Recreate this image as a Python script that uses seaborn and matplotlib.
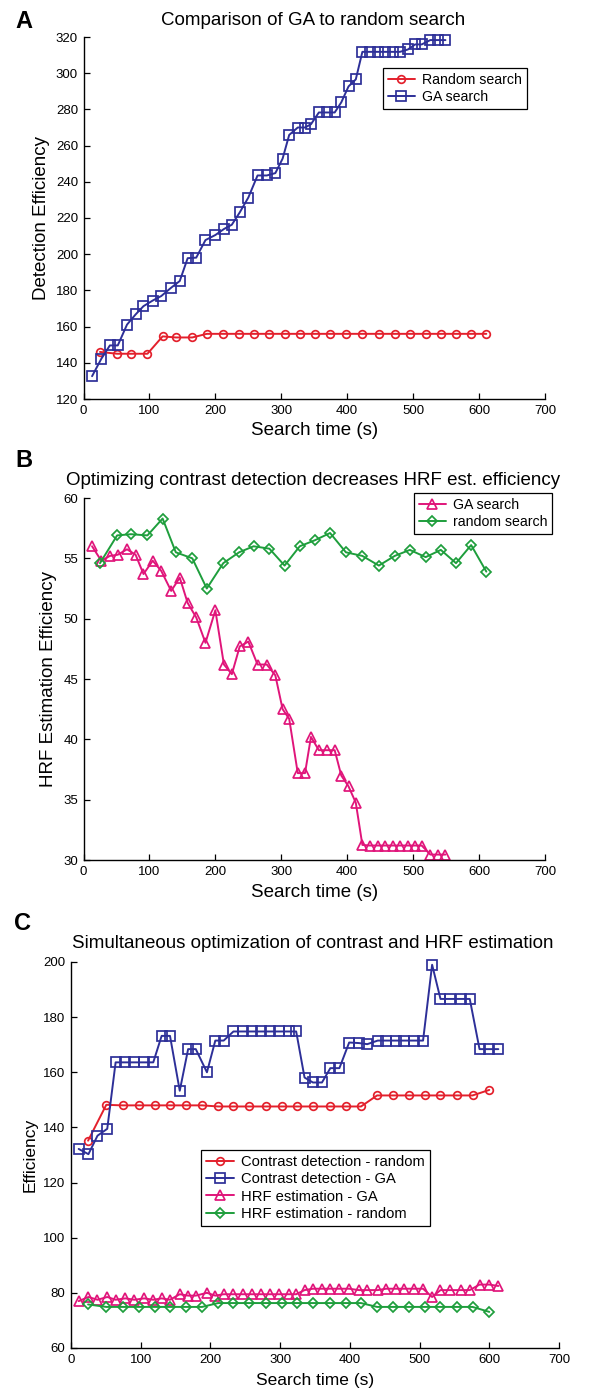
import numpy as np
import pandas as pd
import matplotlib
matplotlib.use("Agg")
import matplotlib.pyplot as plt
import seaborn as sns

# ---------------- data ----------------
# Panel A / B : GA search sample times (s)
ga_time = [13, 27, 40, 52, 66, 79, 91, 105, 118, 133, 146, 158, 171, 185, 200,
           213, 225, 237, 250, 264, 278, 291, 302, 312, 325, 336, 345, 357, 369,
           381, 391, 402, 413, 423, 434, 446, 457, 469, 480, 492, 503, 513, 526,
           538, 549]
# Panel A / B : random search sample times (s)
rand_time = [25, 51, 72, 97, 120, 140, 165, 187, 212, 236, 258, 282, 305, 328,
             351, 374, 398, 423, 448, 472, 495, 519, 542, 565, 588, 611]

a_ga = [132.6, 142.2, 149.6, 149.6, 161.1, 166.7, 171.3, 174.4, 176.9, 181.5,
        185.2, 197.8, 198.1, 207.8, 210.6, 213.9, 216.3, 223.1, 231.3, 243.5,
        243.5, 244.8, 252.8, 265.9, 270.0, 270.0, 271.8, 278.3, 278.3, 278.3,
        283.9, 292.7, 296.6, 311.8, 311.8, 311.8, 311.8, 311.8, 311.8, 313.1,
        315.9, 315.9, 318.3, 318.3, 318.3]
a_random = [146, 145, 145, 145, 154.6, 154, 154, 156, 156, 156, 156, 156, 156,
            156, 156, 156, 156, 156, 156, 156, 156, 156, 156, 156, 156, 156]

b_ga = [56.0, 54.8, 55.2, 55.3, 55.75, 55.3, 53.7, 54.8, 53.95, 52.3, 53.4, 51.3,
        50.1, 48.0, 50.7, 46.2, 45.4, 47.7, 48.1, 46.2, 46.2, 45.3, 42.5, 41.7,
        37.2, 37.2, 40.2, 39.1, 39.1, 39.1, 37.0, 36.1, 34.75, 31.25, 31.2, 31.2,
        31.2, 31.2, 31.2, 31.2, 31.2, 31.2, 30.45, 30.45, 30.45]
b_random = [54.6, 56.9, 57.0, 56.9, 58.3, 55.5, 55.0, 52.5, 54.6, 55.5, 56.0, 55.8,
            54.4, 56.0, 56.5, 57.1, 55.5, 55.2, 54.4, 55.2, 55.7, 55.1, 55.7, 54.6,
            56.1, 53.9]

# Panel C
c_ga_time = [11, 25, 38, 52, 64, 78, 91, 105, 118, 130, 142, 156, 168, 179, 195,
             207, 219, 233, 247, 259, 273, 286, 298, 312, 323, 335, 347, 360, 372,
             385, 399, 413, 425, 440, 452, 466, 478, 492, 505, 518, 530, 544, 559,
             572, 586, 600, 613]
c_rand_time = [24.5, 50.6, 74, 97, 120, 142, 165, 188, 211, 233, 256, 279, 302,
               324, 347, 371, 394, 416, 439, 462, 485, 508, 530, 553, 576, 600]
c_contrast_random = [135.2, 148.2, 148, 148, 148, 148, 148, 148, 147.6, 147.6,
                     147.6, 147.6, 147.6, 147.6, 147.6, 147.6, 147.6, 147.6,
                     151.6, 151.6, 151.6, 151.6, 151.6, 151.6, 151.6, 153.6]
c_contrast_ga = [132.2, 130.3, 137, 139.5, 163.6, 163.6, 163.6, 163.6, 163.6,
                 173.2, 173.2, 153.3, 168.4, 168.4, 160, 171.5, 171.5, 174.8,
                 174.8, 174.8, 174.8, 174.8, 174.8, 174.8, 174.8, 158.1, 156.3,
                 156.3, 161.5, 161.5, 170.8, 170.6, 170.2, 171.5, 171.5, 171.5,
                 171.5, 171.5, 171.5, 199, 186.6, 186.6, 186.6, 186.6, 168.4,
                 168.4, 168.4]
c_hrf_ga = [77, 78.5, 77.5, 78.5, 77.5, 78, 77.5, 78, 77.5, 78, 77.5,
            79.5, 79, 79, 80,
            79, 79.5, 79.5, 79.5, 79.5, 79.5, 79.5, 79.5, 79.5, 79.5,
            81, 81.5, 81.5, 81.5, 81.5, 81.5, 81, 81, 81, 81.5, 81.5, 81.5, 81.5, 81.5,
            78.5,
            81, 81, 81, 81,
            83, 83, 82.5]
c_hrf_random = [75.8, 74.9, 74.9, 74.9, 74.9, 74.9, 74.9, 74.9, 76.3, 76.3, 76.3,
                76.3, 76.3, 76.3, 76.3, 76.3, 76.3, 76.3, 74.9, 74.9, 74.9, 74.9,
                74.9, 74.9, 74.9, 73.1]

x_ticks = [0, 100, 200, 300, 400, 500, 600, 700]

# ---------------- style ----------------
sns.set_theme(style="white")
plt.rcParams['font.family'] = ['Liberation Sans', 'DejaVu Sans']
plt.rcParams.update({
    'xtick.direction': 'in', 'ytick.direction': 'in',
    'xtick.major.size': 4, 'ytick.major.size': 4,
    'xtick.major.width': 0.9, 'ytick.major.width': 0.9,
    'xtick.bottom': True, 'ytick.left': True,
    'xtick.color': 'black', 'ytick.color': 'black',
    'xtick.labelcolor': 'black', 'ytick.labelcolor': 'black',
    'text.color': 'black', 'axes.labelcolor': 'black',
    'axes.linewidth': 1.0, 'axes.edgecolor': 'black',
    'xtick.major.pad': 4, 'ytick.major.pad': 4,
})

RED = '#E3202C'
BLUE = '#2D2F98'
MAG = '#E0157A'
GREEN = '#1E9E3C'

W, H = 595, 1395
fig = plt.figure(figsize=(W / 100, H / 100), dpi=100)


def axes_px(l, t, r, b):
    return fig.add_axes([l / W, 1 - b / H, (r - l) / W, (b - t) / H])


def draw(ax, x, y, color, marker, ms):
    sns.lineplot(x=x, y=y, ax=ax, color=color, marker=marker, markersize=ms,
                 markerfacecolor='none', markeredgecolor=color,
                 markeredgewidth=1.25, linewidth=1.4, errorbar=None,
                 legend=False, clip_on=False)


def style(ax, ylim, yticks):
    ax.set_xlim(0, 700)
    ax.set_ylim(*ylim)
    ax.set_xticks(x_ticks)
    ax.set_yticks(yticks)
    ax.tick_params(labelsize=9.5, colors='black')
    ax.spines[['top', 'right']].set_visible(False)


def legend(ax, labels, x, y, fs=10):
    lg = ax.legend(ax.get_lines()[:len(labels)], labels, loc='upper left',
                   bbox_to_anchor=(x / W, 1 - y / H), bbox_transform=fig.transFigure,
                   frameon=True, fancybox=False, edgecolor='black', framealpha=1,
                   fontsize=fs, borderaxespad=0, handlelength=1.9, handletextpad=0.5,
                   labelspacing=0.22, borderpad=0.35)
    lg.get_frame().set_linewidth(0.9)
    for t in lg.get_texts():
        t.set_color('black')
    return lg


# ---------------- Panel A ----------------
axA = axes_px(83.5, 37, 545, 399)
draw(axA, rand_time, a_random, RED, 'o', 5.5)
draw(axA, ga_time, a_ga, BLUE, 's', 6.8)
style(axA, (120, 320), list(range(120, 321, 20)))
axA.set_xlabel('Search time (s)', fontsize=13.5)
axA.set_ylabel('Detection Efficiency', fontsize=13.5)
axA.xaxis.set_label_coords(0.5, (399 - 422) / 362)
axA.yaxis.set_label_coords((50 - 83.5) / 461.5, 0.5)
legend(axA, ['Random search', 'GA search'], 383, 68, 10.2)
fig.text(313 / W, 1 - 25 / H, 'Comparison of GA to random search', ha='center',
         va='baseline', fontsize=13.5)
fig.text(15 / W, 1 - 28 / H, 'A', ha='left', va='baseline', fontsize=17,
         fontweight='bold')

# ---------------- Panel B ----------------
axB = axes_px(83.5, 498, 545, 860)
draw(axB, ga_time, b_ga, MAG, '^', 6.8)
draw(axB, rand_time, b_random, GREEN, 'D', 4.8)
style(axB, (30, 60), [30, 35, 40, 45, 50, 55, 60])
axB.set_xlabel('Search time (s)', fontsize=13.5)
axB.set_ylabel('HRF Estimation Efficiency', fontsize=13.5)
axB.xaxis.set_label_coords(0.5, (860 - 884) / 362)
axB.yaxis.set_label_coords((57 - 83.5) / 461.5, 0.5)
legend(axB, ['GA search', 'random search'], 414, 493, 10.2)
fig.text(313 / W, 1 - 485 / H,
         'Optimizing contrast detection decreases HRF est. efficiency',
         ha='center', va='baseline', fontsize=13.5)
fig.text(15 / W, 1 - 467 / H, 'B', ha='left', va='baseline', fontsize=17,
         fontweight='bold')

# ---------------- Panel C ----------------
axC = axes_px(71, 962, 559, 1348)
draw(axC, c_rand_time, c_contrast_random, RED, 'o', 5.5)
draw(axC, c_ga_time, c_contrast_ga, BLUE, 's', 6.8)
draw(axC, c_ga_time, c_hrf_ga, MAG, '^', 6.8)
draw(axC, c_rand_time, c_hrf_random, GREEN, 'D', 4.8)
style(axC, (60, 200), list(range(60, 201, 20)))
axC.set_xlabel('Search time (s)', fontsize=12.5)
axC.set_ylabel('Efficiency', fontsize=12.5)
axC.xaxis.set_label_coords(0.5, (1348 - 1373) / 386)
axC.yaxis.set_label_coords((38 - 71) / 488, 0.5)
legend(axC, ['Contrast detection - random', 'Contrast detection - GA',
             'HRF estimation - GA', 'HRF estimation - random'], 201, 1150, 10.6)
fig.text(313 / W, 1 - 948 / H,
         'Simultaneous optimization of contrast and HRF estimation',
         ha='center', va='baseline', fontsize=13.5)
fig.text(14 / W, 1 - 930 / H, 'C', ha='left', va='baseline', fontsize=17,
         fontweight='bold')

fig.savefig('out.png', dpi=100)
